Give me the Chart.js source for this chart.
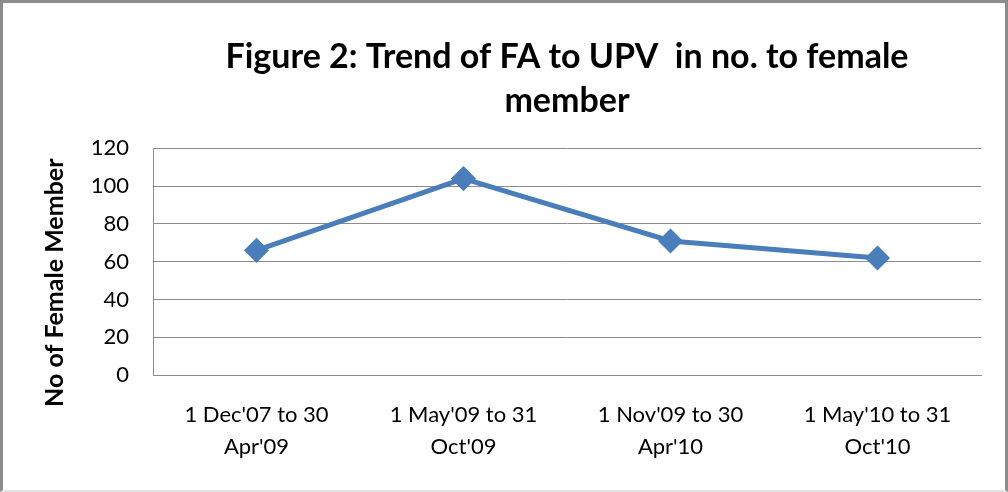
<!DOCTYPE html>
<html lang="en">
<head>
    <meta charset="UTF-8">
    <title>Figure 2</title>
    <script src="https://cdn.jsdelivr.net/npm/chart.js"></script>
    <style>
        html, body { margin: 0; padding: 0; background: #fff; }
        #wrap {
            width: 1008px; height: 492px; box-sizing: border-box;
            border-top: 3px solid #8c8c8c; border-left: 3px solid #8c8c8c;
            border-right: 3px solid #8c8c8c; border-bottom: 2px solid #e4e4e4;
        }
        #wrap canvas { display: block; }
    </style>
</head>
<body>
    <div id="wrap"><canvas id="trendChart" width="1002" height="487"></canvas></div>
    <script>
        const periods = [
            ["1 Dec'07 to 30", "Apr'09"],
            ["1 May'09 to 31", "Oct'09"],
            ["1 Nov'09 to 30", "Apr'10"],
            ["1 May'10 to 31", "Oct'10"]
        ];
        const femaleMembers = [66, 104, 71, 62];
        const yTicks = [0, 20, 40, 60, 80, 100, 120];

        const fontFamily = 'Lato, "Open Sans", sans-serif';
        const gridGray = '#8c8c8c';

        const trendChart = new Chart(document.getElementById('trendChart'), {
            type: 'line',
            data: {
                labels: periods,
                datasets: [{
                    label: 'No of Female Member',
                    data: femaleMembers,
                    borderColor: '#4a7ebb',
                    backgroundColor: '#4a7ebb',
                    borderWidth: 5,
                    pointStyle: 'rectRot',
                    pointRadius: 9,
                    pointHoverRadius: 9,
                    tension: 0,
                    fill: false
                }]
            },
            options: {
                responsive: false,
                animation: false,
                layout: { padding: { left: 0, right: 24, top: 32, bottom: 0 } },
                plugins: {
                    legend: { display: false },
                    tooltip: { enabled: false },
                    title: {
                        display: true,
                        fullSize: false,
                        text: ['Figure 2: Trend of FA to UPV  in no. to female', 'member'],
                        color: '#000',
                        font: { family: fontFamily, size: 34, weight: 'bold', lineHeight: 1.3 },
                        padding: { top: 0, bottom: 25 }
                    }
                },
                scales: {
                    x: {
                        offset: true,
                        grid: { display: false, drawTicks: false },
                        border: { display: true, color: gridGray, width: 1 },
                        ticks: {
                            color: '#000',
                            padding: 24,
                            maxRotation: 0,
                            font: { family: fontFamily, size: 22, lineHeight: 1.45 }
                        },
                        afterFit: scale => { scale.height = 115; }
                    },
                    y: {
                        min: 0,
                        max: 120,
                        afterBuildTicks: scale => { scale.ticks = yTicks.map(v => ({ value: v })); },
                        grid: { color: gridGray, lineWidth: 1, drawTicks: false },
                        border: { display: true, color: gridGray, width: 1 },
                        ticks: {
                            color: '#000',
                            padding: 24,
                            font: { family: fontFamily, size: 22 }
                        },
                        title: {
                            display: true,
                            // trailing spaces push the label down a bit, like the original
                            text: 'No of Female Member\u00a0\u00a0\u00a0\u00a0\u00a0\u00a0\u00a0',
                            color: '#000',
                            font: { family: fontFamily, size: 25, weight: 'bold' },
                            padding: { top: 37, bottom: 10 }
                        },
                        afterFit: scale => { scale.width = 150; }
                    }
                }
            }
        });
    </script>
</body>
</html>
